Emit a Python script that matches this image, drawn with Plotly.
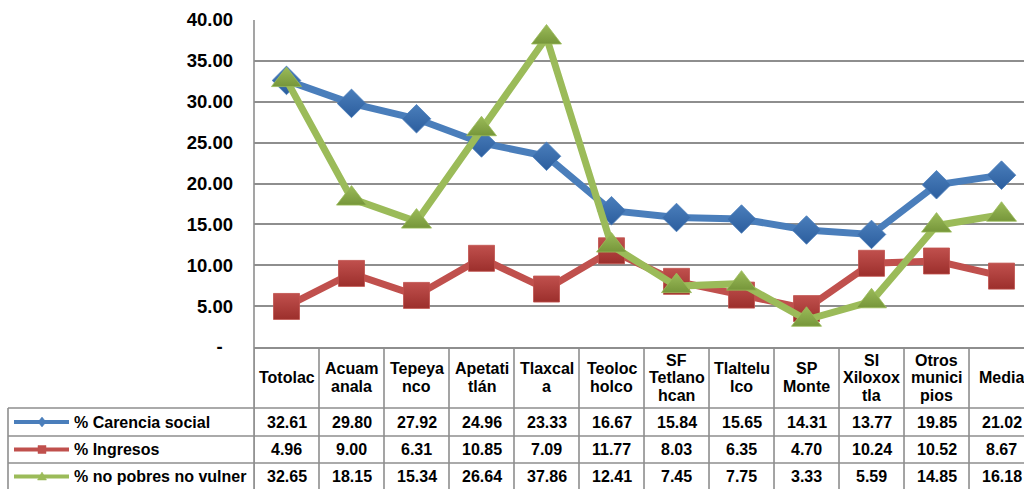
import plotly.graph_objects as go

# ---------------- data ----------------
categories = ["Totolac", "Acuamanala", "Tepeyanco", "Apetatitlán", "Tlaxcala",
              "Teolocholco", "SF Tetlanohcan", "Tlaltelulco", "SP Monte",
              "SI Xiloxoxtla", "Otros municipios", "Media"]
header_lines = [["Totolac"], ["Acuam", "anala"], ["Tepeya", "nco"], ["Apetati", "tlán"],
                ["Tlaxcal", "a"], ["Teoloc", "holco"], ["SF", "Tetlano", "hcan"],
                ["Tlaltelu", "lco"], ["SP", "Monte"], ["SI", "Xiloxox", "tla"],
                ["Otros", "munici", "pios"], ["Media"]]
series_names = ["% Carencia social", "% Ingresos", "% no pobres no vulner"]
carencia = [32.61, 29.80, 27.92, 24.96, 23.33, 16.67, 15.84, 15.65, 14.31, 13.77, 19.85, 21.02]
ingresos = [4.96, 9.00, 6.31, 10.85, 7.09, 11.77, 8.03, 6.35, 4.70, 10.24, 10.52, 8.67]
nopobres = [32.65, 18.15, 15.34, 26.64, 37.86, 12.41, 7.45, 7.75, 3.33, 5.59, 14.85, 16.18]
ytick_vals = [0, 5, 10, 15, 20, 25, 30, 35, 40]
ytick_text = ["-\u00a0\u00a0", "5.00", "10.00", "15.00", "20.00", "25.00", "30.00", "35.00", "40.00"]

# ---------------- styling ----------------
W, H = 1024, 489
FONT = "Liberation Sans, Arial, sans-serif"
GRID = "#8e8e8e"
colors = ["#4a7ebb", "#c0504d", "#9bbb59"]
dark = ["#2c5e9e", "#9c2f2c", "#76963a"]
symbols = ["diamond", "square", "triangle-up"]
msizes = [22, 26, 26]

def px(p):
    return p / W

def py(p):
    return (H - p) / H

x_idx = list(range(len(categories)))
series = [carencia, ingresos, nopobres]

fig = go.Figure()
for name, vals, c, d, sym, ms in zip(series_names, series, colors, dark, symbols, msizes):
    fig.add_trace(go.Scatter(
        x=x_idx, y=vals, name=name, mode="lines+markers",
        line=dict(color=c, width=7),
        marker=dict(symbol=sym, size=ms, color=c,
                    gradient=dict(type="vertical", color=d),
                    line=dict(width=0.8, color=c)),
        showlegend=False,
    ))

shapes = []
line_style = dict(color=GRID, width=1.6)
# vertical column separators of the data table
for k in range(len(categories) + 1):
    shapes.append(dict(type="line", xref="x", yref="paper", x0=k - 0.5, x1=k - 0.5,
                       y0=py(347), y1=py(H + 2), line=line_style))
# horizontal table lines
for p in [408, 436, 463]:
    shapes.append(dict(type="line", xref="paper", yref="paper", x0=px(8), x1=1,
                       y0=py(p), y1=py(p), line=line_style))
# left border of legend column
shapes.append(dict(type="line", xref="paper", yref="paper", x0=px(8), x1=px(8),
                   y0=py(408), y1=py(H + 2), line=line_style))
# plot area left border
shapes.append(dict(type="line", xref="paper", yref="paper", x0=px(254), x1=px(254),
                   y0=py(20), y1=py(H + 2), line=line_style))

annotations = []
# header labels
line_gap = 17.5
hdr_center = 377.5
for k, lines in enumerate(header_lines):
    n = len(lines)
    for j, t in enumerate(lines):
        p = hdr_center + (j - (n - 1) / 2) * line_gap
        annotations.append(dict(x=k, y=py(p), xref="x", yref="paper", text="<b>%s</b>" % t,
                                showarrow=False, xanchor="center", yanchor="middle",
                                font=dict(family=FONT, size=16, color="black")))
# data rows and legend keys
row_centers = [422, 449.5, 476.5]
for r, (name, vals, c, sym) in enumerate(zip(series_names, series, colors, symbols)):
    pc = row_centers[r]
    for k, v in enumerate(vals):
        annotations.append(dict(x=k, y=py(pc), xref="x", yref="paper", text="<b>%.2f</b>" % v,
                                showarrow=False, xanchor="center", yanchor="middle",
                                font=dict(family=FONT, size=16, color="black")))
    annotations.append(dict(x=px(72), y=py(pc), xref="paper", yref="paper",
                            text="<b>%s</b>" % name, showarrow=False,
                            xanchor="left", yanchor="middle",
                            font=dict(family=FONT, size=16, color="black")))
    shapes.append(dict(type="line", xref="paper", yref="paper", x0=px(14), x1=px(69),
                       y0=py(pc), y1=py(pc), line=dict(color=c, width=4)))
    cx = 42
    if sym == "diamond":
        path = "M %f,%f L %f,%f L %f,%f L %f,%f Z" % (
            px(cx - 4), py(pc), px(cx), py(pc - 5), px(cx + 4), py(pc), px(cx), py(pc + 5))
    elif sym == "square":
        path = "M %f,%f L %f,%f L %f,%f L %f,%f Z" % (
            px(cx - 4), py(pc - 4), px(cx + 4), py(pc - 4), px(cx + 4), py(pc + 4), px(cx - 4), py(pc + 4))
    else:
        path = "M %f,%f L %f,%f L %f,%f Z" % (
            px(cx - 4.5), py(pc + 3.5), px(cx + 4.5), py(pc + 3.5), px(cx), py(pc - 4.5))
    shapes.append(dict(type="path", xref="paper", yref="paper", path=path,
                       fillcolor=c, line=dict(color=c, width=0.5)))

fig.update_layout(
    width=W, height=H,
    margin=dict(l=0, r=0, t=0, b=0),
    paper_bgcolor="white", plot_bgcolor="white",
    xaxis=dict(domain=[px(254), 1], range=[-0.5, 11.346], showgrid=False, zeroline=False,
               showticklabels=False, ticks="", showline=True, linecolor=GRID, linewidth=1.6,
               automargin=False, fixedrange=True),
    yaxis=dict(domain=[py(347), py(20)], range=[0, 40], tickvals=ytick_vals,
               ticktext=["<b>%s</b>" % t for t in ytick_text], showgrid=True,
               gridcolor=GRID, gridwidth=1.6, zeroline=False, showline=False, ticks="",
               ticklabelstandoff=20, tickfont=dict(family=FONT, size=18.5, color="black"),
               automargin=False, fixedrange=True),
    shapes=shapes,
    annotations=annotations,
)

fig.write_html("out.html", config={"displayModeBar": False},
               post_script="document.body.style.margin='0';document.body.style.overflow='hidden';")
